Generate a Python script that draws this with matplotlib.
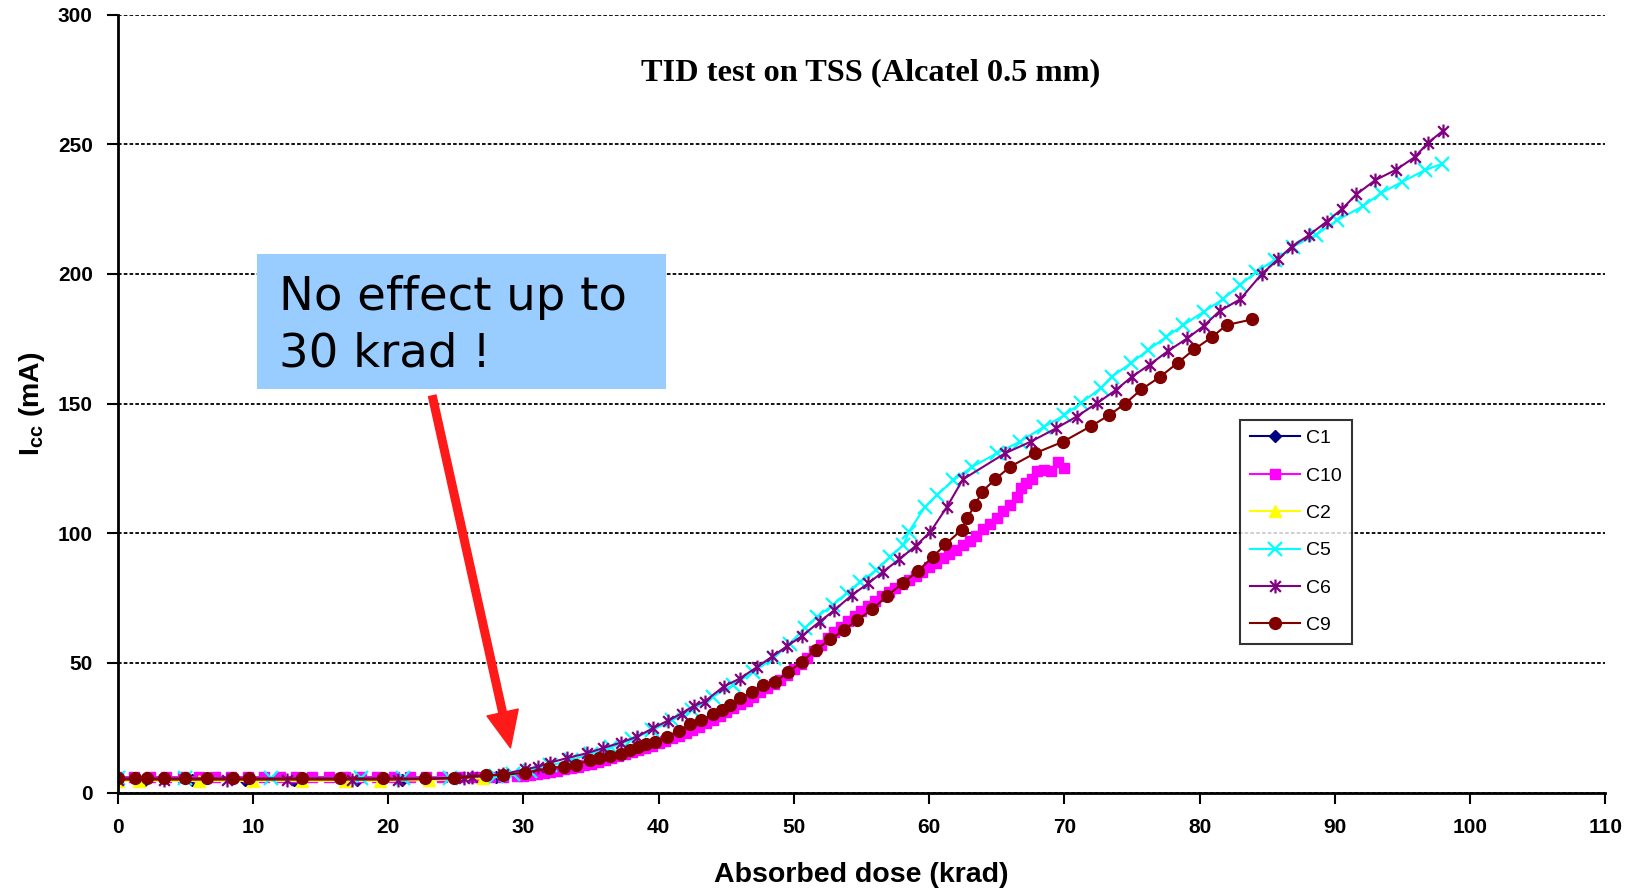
import matplotlib
matplotlib.use("Agg")
import matplotlib.pyplot as plt
from matplotlib.path import Path
from matplotlib.patches import Rectangle

plt.rcParams['font.family'] = ['Liberation Sans', 'DejaVu Sans']
plt.rcParams['mathtext.fontset'] = 'custom'
plt.rcParams['mathtext.rm'] = 'Liberation Sans'
plt.rcParams['mathtext.bf'] = 'Liberation Sans:bold'

# ---------------- data ----------------
c1_x = [0, 2.0, 5.5, 9.4, 13.0, 17.7, 21.0, 25.0, 28.0]
c1_y = [5, 5, 5, 5, 5, 5, 5, 5.5, 6]

c2_x = [0, 1.6, 6.0, 10.0, 13.6, 16.8, 19.4, 23.0, 27.0]
c2_y = [4.5, 4.5, 4.5, 4.5, 4.5, 4.5, 4.5, 4.8, 5.5]

c10_x = [0, 1.2, 2.4, 3.6, 4.8, 6.0, 7.2, 8.4, 9.6, 10.8, 12.0, 13.2, 14.4, 15.6,
         16.8, 18.0, 19.2, 20.4, 21.6, 22.8, 24.0, 25.2, 26.4, 27.5, 28.5, 29.5,
         30.0, 30.5, 31.0, 31.5, 32.0, 32.5, 33.0, 33.5, 34.0, 34.5, 35.0, 35.5,
         36.0, 36.5, 37.0, 37.5, 38.0, 38.5, 39.0, 39.5, 40.0, 40.5, 41.0, 41.5,
         42.0, 42.5, 43.0, 43.5, 44.0, 44.5, 45.0, 45.5, 46.0, 46.5, 47.0, 47.5,
         48.0, 48.5, 49.0, 49.5, 50.0, 50.5, 51.0, 51.5, 52.0, 52.5, 53.0, 53.5,
         54.0, 54.5, 55.0, 55.5, 56.0, 56.5, 57.0, 57.5, 58.0, 58.5, 59.0, 59.5,
         60.0, 60.5, 61.0, 61.5, 62.0, 62.5, 63.0, 63.5, 64.0, 64.5, 65.0, 65.5,
         66.0, 66.5, 66.8, 67.2, 67.6, 68.0, 68.5, 69.0, 69.5, 70.0]
c10_y = [6, 6, 6, 6, 6, 6, 6, 6, 6, 6, 6, 6, 6, 6,
         6, 6, 6, 6, 6, 6, 6, 6, 6, 6, 6.2, 6.4,
         6.6, 6.9, 7.2, 7.6, 8.0, 8.5, 9.0, 9.5, 10.0, 10.6, 11.2, 11.8,
         12.5, 13.2, 14.0, 14.8, 15.6, 16.4, 17.2, 18.1, 19.0, 20.0, 21.0, 22.0,
         23.0, 24.2, 25.5, 26.8, 28.0, 29.5, 31.0, 32.5, 34.0, 35.5, 37.0, 38.7,
         40.2, 41.8, 43.3, 45.5, 47.5, 49.5, 52.0, 54.5, 57.0, 59.5, 62.0, 64.0,
         66.0, 68.0, 70.0, 72.0, 74.0, 75.8, 77.5, 79.0, 80.5, 82.0, 83.5, 85.2,
         87.0, 88.7, 90.3, 92.0, 93.7, 95.3, 97.0, 99.0, 101.5, 103.7, 106.0, 108.5,
         111.0, 114.0, 117.5, 119.5, 121.0, 124.0, 124.4, 124.2, 127.5, 125.0]

c5_x = [0, 5.0, 11.3, 18.0, 21.1, 24.6, 28.0, 29.2, 30.5, 32.0, 33.5, 35.0, 36.5,
        38.0, 39.5, 41.0, 42.5, 44.0, 45.5, 47.0, 48.5, 49.7, 50.8, 51.7, 52.9,
        53.9, 54.9, 56.1, 57.1, 58.1, 58.5, 59.7, 60.6, 61.8, 63.2, 65.0, 66.7,
        68.5, 70.0, 71.2, 72.7, 73.5, 74.9, 76.2, 77.5, 78.8, 80.3, 81.7, 83.0,
        84.2, 85.6, 86.9, 88.6, 90.2, 92.1, 93.4, 95.0, 96.7, 97.9]
c5_y = [5.5, 5.5, 5.5, 5.5, 5.5, 5.8, 6.5, 7.0, 8.5, 10.5, 12.5, 15.0, 17.5,
        20.5, 24.0, 28.0, 32.0, 37.0, 41.5, 46.5, 52.0, 57.5, 63.4, 67.8, 72.4,
        76.9, 81.3, 85.8, 91.0, 95.5, 100.6, 110.2, 114.8, 120.5, 125.7, 130.8, 135.3,
        141.1, 145.5, 150.1, 156.0, 160.4, 165.5, 170.7, 175.6, 180.3, 185.4, 190.2, 195.7,
        200.9, 205.5, 210.5, 215.0, 220.8, 226.2, 231.1, 235.6, 240.1, 242.4]

c6_x = [0, 3.4, 8.1, 12.5, 17.3, 20.7, 25.6, 26.2, 28.5, 30.1, 31.1, 32.0, 33.2,
        34.7, 35.9, 37.2, 38.4, 39.6, 40.7, 41.7, 42.6, 43.4, 44.8, 46.0, 47.3,
        48.4, 49.5, 50.6, 51.9, 53.0, 54.3, 55.5, 56.6, 57.8, 59.0, 60.1, 61.3,
        62.5, 65.6, 67.5, 69.4, 70.9, 72.4, 73.8, 75.0, 76.3, 77.7, 79.1, 80.3,
        81.5, 83.0, 84.6, 85.8, 86.8, 88.1, 89.4, 90.5, 91.6, 93.0, 94.5, 95.9,
        96.9, 98.0]
c6_y = [5, 5, 5, 5, 5, 5, 5.5, 6.0, 7.0, 9.0, 10.0, 11.6, 13.3,
        15.2, 17.2, 19.3, 21.6, 24.9, 27.8, 30.5, 33.5, 35.1, 40.9, 44.0, 48.5,
        52.5, 56.5, 60.4, 65.9, 70.4, 76.2, 80.7, 85.2, 90.0, 95.1, 100.6, 110.0,
        120.8, 130.8, 135.3, 140.5, 145.0, 150.1, 155.2, 160.4, 165.0, 170.4, 175.2, 179.9,
        185.8, 190.2, 200.0, 205.6, 210.5, 215.0, 220.2, 224.9, 230.7, 236.2, 240.1, 245.0,
        250.6, 255.2]

c9_x = [0, 1.3, 2.2, 3.4, 5.0, 6.6, 8.5, 9.7, 13.6, 16.4, 19.6, 22.7, 24.9,
        27.2, 28.5, 30.1, 31.9, 33.0, 33.9, 34.9, 35.6, 36.4, 37.2, 37.9, 38.5,
        39.1, 39.7, 40.6, 41.5, 42.3, 43.1, 44.0, 44.7, 45.3, 46.0, 46.9, 47.7,
        48.6, 49.6, 50.6, 51.6, 52.7, 53.7, 54.7, 55.8, 56.9, 58.1, 59.2, 60.3,
        61.2, 62.4, 62.8, 63.4, 63.9, 64.9, 66.0, 67.8, 69.9, 72.0, 73.3, 74.5,
        75.7, 77.1, 78.4, 79.6, 80.9, 82.0, 83.9]
c9_y = [5.5, 5.5, 5.5, 5.5, 5.5, 5.5, 5.5, 5.5, 5.5, 5.5, 5.5, 5.5, 5.7,
        6.8, 6.8, 7.7, 9.4, 10.0, 10.7, 12.6, 13.3, 14.1, 14.9, 16.4, 17.7,
        18.7, 19.6, 21.6, 23.9, 26.3, 28.0, 30.2, 31.8, 33.8, 36.3, 38.9, 41.4,
        42.7, 46.5, 50.5, 55.0, 59.1, 62.7, 66.6, 70.7, 75.9, 80.9, 85.6, 91.0,
        95.7, 101.3, 105.8, 110.9, 116.0, 120.9, 125.7, 130.8, 135.3, 141.4, 145.5, 150.0,
        155.5, 160.4, 165.8, 170.9, 175.6, 180.3, 182.5]

x_ticks = [0, 10, 20, 30, 40, 50, 60, 70, 80, 90, 100, 110]
y_ticks = [0, 50, 100, 150, 200, 250, 300]

# ---------------- figure ----------------
fig = plt.figure(figsize=(16.33, 8.91), dpi=100)
ax = fig.add_axes([0.0721, 0.1104, 0.9109, 0.8732])

star = Path([(-1, -1), (1, 1), (-1, 1), (1, -1), (0, -1.3), (0, 1.3)],
            [Path.MOVETO, Path.LINETO, Path.MOVETO, Path.LINETO, Path.MOVETO, Path.LINETO])

ax.plot(c1_x, c1_y, color='#000080', marker='D', ms=6, lw=1.5, label='C1')
ax.plot(c10_x, c10_y, color='#FF00FF', marker='s', ms=7.5, lw=1.5, label='C10')
ax.plot(c2_x, c2_y, color='#FFFF00', marker='^', ms=8, lw=1.5, label='C2')
ax.plot(c5_x, c5_y, color='#00FFFF', marker='x', ms=10, mew=1.6, lw=1.5, label='C5')
ax.plot(c6_x, c6_y, color='#800080', marker=star, ms=10, mew=1.6, lw=1.5, label='C6')
ax.plot(c9_x, c9_y, color='#800000', marker='o', ms=8.5, lw=1.5, label='C9')

ax.set_xlim(0, 110)
ax.set_ylim(0, 300)
ax.set_xticks(x_ticks)
ax.set_yticks(y_ticks)
ax.tick_params(axis='both', direction='out', length=8, width=1.5, labelsize=15, colors='black')
ax.tick_params(axis='x', pad=10)
ax.tick_params(axis='y', pad=10)
for lbl in ax.get_xticklabels() + ax.get_yticklabels():
    lbl.set_fontweight('bold')

ax.grid(axis='y', color='black', linestyle=(0, (2, 1.2)), linewidth=1.3)
ax.set_axisbelow(True)
for s in ['top', 'right']:
    ax.spines[s].set_visible(False)
for s in ['left', 'bottom']:
    ax.spines[s].set_linewidth(2)

ax.set_xlabel('Absorbed dose (krad)', fontsize=20.5, fontweight='bold', labelpad=18)
ax.set_ylabel(r'$\mathbf{I_{cc}}$ (mA)', fontsize=20.5, fontweight='bold', labelpad=8)

ax.text(55.7, 277.5, 'TID test on TSS (Alcatel 0.5 mm)', ha='center', va='center',
        fontsize=23.3, fontweight='bold', family=['Liberation Serif', 'DejaVu Serif'])

leg = ax.legend(loc='upper left', bbox_to_anchor=(0.7546, 0.4793), borderaxespad=0,
                fontsize=14, frameon=True, fancybox=False, edgecolor='black',
                handlelength=2.55, handletextpad=0.35, labelspacing=1.02, borderpad=0.5)
leg.get_frame().set_linewidth(1.5)

# annotation box
ax.add_patch(Rectangle((10.32, 155.8), 30.19, 51.8, facecolor='#99CCFF', edgecolor='none', zorder=5))
ax.text(11.9, 179.9, 'No effect up to\n30 krad !', ha='left', va='center', fontsize=33.5,
        family=['DejaVu Sans'], linespacing=1.33, zorder=6)

ax.annotate('', xy=(29.04, 17.3), xytext=(23.26, 153.0),
            arrowprops=dict(facecolor='#FF1A1A', edgecolor='#FF1A1A', width=5.5,
                            headwidth=23, headlength=26, shrink=0), zorder=7)

fig.savefig('out.png', dpi=100)
